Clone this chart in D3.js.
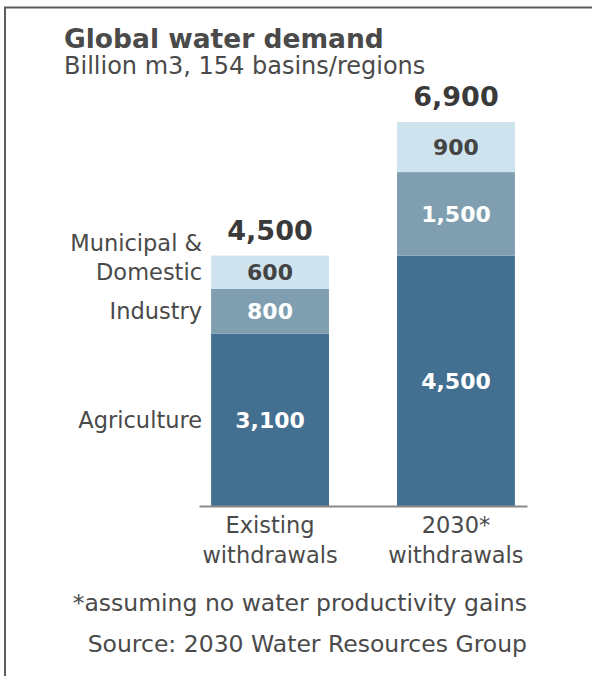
<!DOCTYPE html>
<html><head><meta charset="utf-8">
<script src="https://cdn.jsdelivr.net/npm/d3@7"></script>
<style>body{margin:0;background:#fff}svg{display:block}</style>
</head><body>
<svg id="c" width="592" height="676"></svg>
<script>
const categories = ["Existing\nwithdrawals", "2030*\nwithdrawals"];
const seriesNames = ["Agriculture", "Industry", "Municipal &\nDomestic"];
const agriculture = [3100, 4500];
const industry = [800, 1500];
const municipal = [600, 900];
const totals = [4500, 6900];
const title = "Global water demand";
const subtitle = "Billion m3, 154 basins/regions";
const footnote = "*assuming no water productivity gains";
const source = "Source: 2030 Water Resources Group";

const colors = ["#436f91", "#7f9fb1", "#cfe3ee"];
const labelColors = ["#ffffff", "#ffffff", "#444444"];
const font = "Verdana, 'DejaVu Sans', sans-serif";
const txt = "#4a4a4a";

const svg = d3.select("#c");
svg.append("path").attr("d", "M5,676 V7.5 H592").attr("fill", "none").attr("stroke", "#5c5c5c").attr("stroke-width", 2);

const rows = categories.map((c, i) => ({cat: c, Agriculture: agriculture[i], Industry: industry[i], Municipal: municipal[i]}));
const keys = ["Agriculture", "Industry", "Municipal"];
const stacked = d3.stack().keys(keys)(rows);

const x = d3.scaleBand().domain(categories).range([199, 527]).paddingInner(0.366).paddingOuter(0.065);
const y = d3.scaleLinear().domain([0, 6900]).range([506, 122]);

svg.append("text").attr("x", 64).attr("y", 48).attr("font-family", font).attr("font-weight", "bold").attr("font-size", 26.5).attr("fill", txt).text(title);
svg.append("text").attr("x", 64).attr("y", 74).attr("font-family", font).attr("font-size", 24).attr("fill", txt).text(subtitle);

const g = svg.append("g");
stacked.forEach((s, si) => {
  g.selectAll(null).data(s).join("rect")
    .attr("x", d => x(d.data.cat)).attr("width", x.bandwidth())
    .attr("y", d => y(d[1])).attr("height", d => y(d[0]) - y(d[1]))
    .attr("fill", colors[si]);
  g.selectAll(null).data(s).join("text")
    .attr("x", d => x(d.data.cat) + x.bandwidth() / 2)
    .attr("y", d => (y(d[0]) + y(d[1])) / 2).attr("dy", "0.36em")
    .attr("text-anchor", "middle").attr("font-family", font).attr("font-weight", "bold").attr("font-size", 22)
    .attr("fill", labelColors[si]).text(d => d3.format(",")(d[1] - d[0]));
});
g.selectAll(null).data(totals).join("text")
  .attr("x", (d, i) => x(categories[i]) + x.bandwidth() / 2)
  .attr("y", d => y(d) - 16).attr("text-anchor", "middle")
  .attr("font-family", font).attr("font-weight", "bold").attr("font-size", 27).attr("fill", "#3a3a3a")
  .text(d => d3.format(",")(d));

stacked.forEach((s, si) => {
  const d = s[0];
  const lines = seriesNames[si].split("\n");
  const cy = (y(d[0]) + y(d[1])) / 2;
  const t = svg.append("text").attr("text-anchor", "end").attr("font-family", font).attr("font-size", 22.5).attr("fill", txt);
  lines.forEach((ln, li) => {
    t.append("tspan").attr("x", x(categories[0]) - 9)
      .attr("y", cy + (li - (lines.length - 1)) * 29).attr("dy", "0.36em").text(ln);
  });
});

const ax = svg.append("g").attr("transform", "translate(0,506)")
  .call(d3.axisBottom(x).tickSize(0).tickSizeOuter(0).tickFormat(""));
ax.select(".domain").attr("stroke", "#8a8a8a").attr("stroke-width", 2);
ax.selectAll(".tick text").remove();
ax.selectAll(".tick").each(function(c) {
  const t = d3.select(this).append("text").attr("text-anchor", "middle").attr("font-family", font).attr("font-size", 22.5).attr("fill", txt);
  c.split("\n").forEach((ln, li) => t.append("tspan").attr("x", 0).attr("y", 27 + li * 30).text(ln));
});

svg.append("text").attr("x", 527).attr("y", 611).attr("text-anchor", "end").attr("font-family", font).attr("font-size", 23.5).attr("fill", txt).text(footnote);
svg.append("text").attr("x", 527).attr("y", 652).attr("text-anchor", "end").attr("font-family", font).attr("font-size", 23.5).attr("fill", txt).text(source);
</script>
</body></html>
